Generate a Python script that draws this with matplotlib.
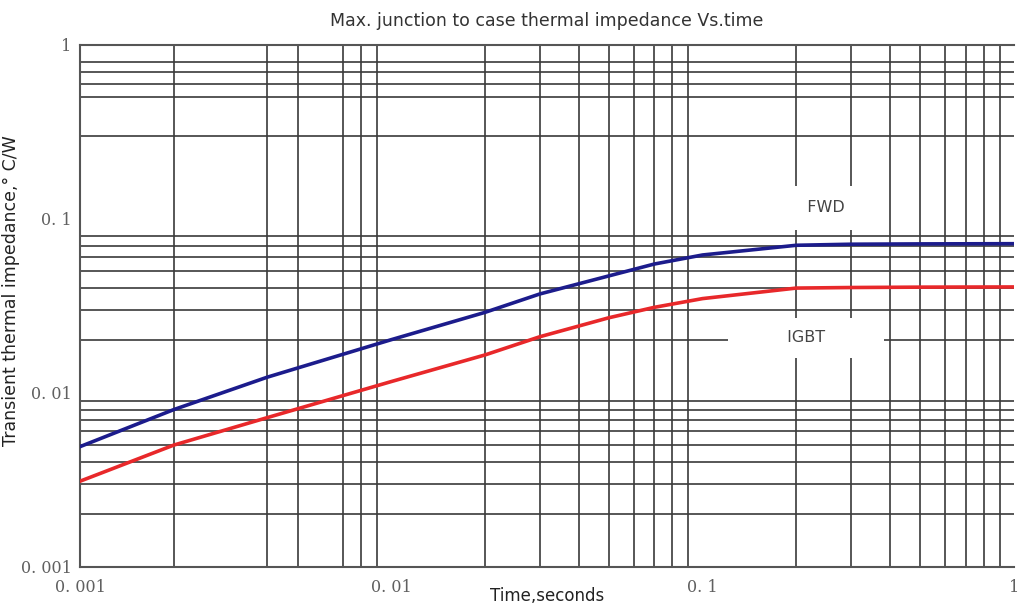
import matplotlib.pyplot as plt

# time points (s) and max. thermal impedance (C/W)
t_fwd = [0.001, 0.002, 0.004, 0.01, 0.02, 0.03, 0.05, 0.07, 0.1, 0.2, 0.3, 0.5, 1.0]
z_fwd = [0.0049, 0.008, 0.0123, 0.0202, 0.029, 0.037, 0.047, 0.055, 0.062, 0.0705, 0.0715, 0.0718, 0.072]

t_igbt = [0.001, 0.002, 0.004, 0.01, 0.02, 0.03, 0.05, 0.07, 0.1, 0.2, 0.3, 0.5, 1.0]
z_igbt = [0.0031, 0.005, 0.0072, 0.0116, 0.0165, 0.021, 0.027, 0.031, 0.0348, 0.040, 0.0403, 0.0405, 0.0406]

x_ticks = [0.001, 0.01, 0.1, 1]
x_labels = ['0. 001', '0. 01', '0. 1', '1']
y_ticks = [0.001, 0.01, 0.1, 1]
y_labels = ['0. 001', '0. 01', '0. 1', '1']

# grid lines actually drawn on the chart (some are missing in the original)
x_grid = [0.002, 0.004, 0.005, 0.007, 0.008, 0.009, 0.01,
          0.02, 0.03, 0.04, 0.05, 0.06, 0.07, 0.08, 0.09, 0.1,
          0.2, 0.3, 0.4, 0.5, 0.6, 0.7, 0.8, 0.9]
y_grid = [0.002, 0.003, 0.004, 0.005, 0.006, 0.007, 0.008, 0.009, 0.01,
          0.02, 0.03, 0.04, 0.05, 0.06, 0.07, 0.08,
          0.3, 0.5, 0.6, 0.7, 0.8]

fig = plt.figure(figsize=(10.22, 6.08), dpi=100)
ax = fig.add_axes([0.0783, 0.068, 0.9137, 0.858])

ax.plot(t_fwd, z_fwd, color='#1c1c8c', lw=2.6, zorder=3)
ax.plot(t_igbt, z_igbt, color='#e8282a', lw=2.6, zorder=3)

ax.set_xscale('log')
ax.set_yscale('log')
ax.set_xlim(0.001, 1)
ax.set_ylim(0.001, 1)

ax.set_xticks(x_ticks)
ax.set_xticklabels(x_labels)
ax.set_yticks(y_ticks)
ax.set_yticklabels(y_labels)
ax.set_xticks(x_grid, minor=True)
ax.set_yticks(y_grid, minor=True)
ax.tick_params(which='both', length=0)
ax.tick_params(axis='x', pad=9)
ax.tick_params(axis='y', pad=6)
for lab in ax.get_xticklabels() + ax.get_yticklabels():
    lab.set_family('DejaVu Serif')
    lab.set_fontsize(11.5)
    lab.set_color('#606060')
ax.xaxis.set_minor_formatter(plt.NullFormatter())
ax.yaxis.set_minor_formatter(plt.NullFormatter())

ax.grid(which='minor', color='#3a3a3a', lw=1.2)
ax.grid(which='major', visible=False)
for s in ax.spines.values():
    s.set_color('#555555')
    s.set_linewidth(1.5)
ax.spines['right'].set_visible(False)

ax.text(0.25, 0.116, '  FWD  ', fontsize=11.5, color='#444444', ha='center', va='center',
        family='DejaVu Sans', zorder=4,
        bbox=dict(boxstyle='square,pad=0.9', fc='white', ec='none'))
ax.text(0.215, 0.0207, '         IGBT         ', fontsize=11.5, color='#444444',
        ha='center', va='center', family='DejaVu Sans', zorder=4,
        bbox=dict(boxstyle='square,pad=0.8', fc='white', ec='none'))

ax.set_title('Max. junction to case thermal impedance Vs.time', fontsize=12.5,
             family='DejaVu Sans', color='#333333', pad=14)
ax.set_xlabel('Time,seconds', fontsize=12, family='DejaVu Sans', color='#222222', va='center')
ax.xaxis.set_label_coords(0.5, -0.057)
ax.set_ylabel('Transient thermal impedance,° C/W', fontsize=12.5, family='DejaVu Sans',
              color='#222222')
ax.yaxis.set_label_coords(-0.064, 0.53)

fig.savefig('out.png', dpi=100)
